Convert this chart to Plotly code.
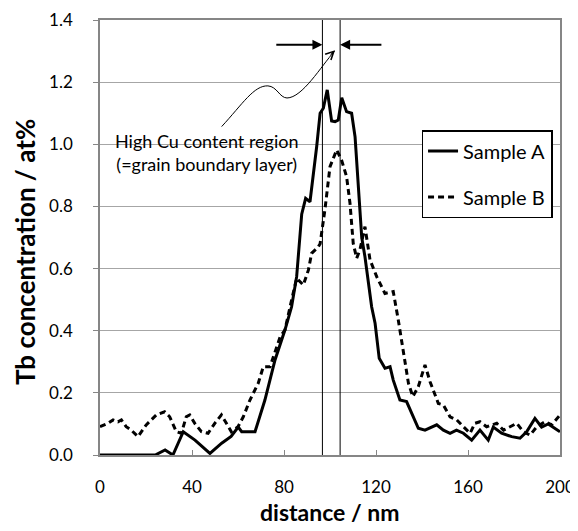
import plotly.graph_objects as go

# ---- data ----
sample_a_x = [0, 24, 28.3, 31.7, 36.2, 41.3, 47.8, 52.9, 57, 60.1, 61.6, 67.4, 71.7, 76.1, 80.4, 83.3,
              85.5, 87.7, 89.4, 91.3, 94.2, 95.7, 97.1, 98.8, 100.7, 102.2, 103.6, 105.1, 107.2, 109.4,
              110.9, 112.3, 113.8, 115.2, 118.1, 119.6, 121.4, 123.9, 126.1, 127.5, 130.4, 133.3, 135.5,
              138.4, 141.3, 144.2, 146.4, 149.3, 152.2, 155, 158, 161.6, 165.2, 168.8, 171, 174.6, 179,
              182.6, 185.5, 189.1, 192, 194.9, 200]
sample_a_y = [0, 0, 0.016, 0, 0.075, 0.048, 0.005, 0.038, 0.06, 0.09, 0.075, 0.075, 0.177, 0.306, 0.402, 0.477,
              0.574, 0.775, 0.826, 0.815, 0.992, 1.10, 1.116, 1.175, 1.075, 1.073, 1.078, 1.15, 1.105, 1.10,
              1.024, 0.85, 0.70, 0.638, 0.477, 0.424, 0.311, 0.279, 0.284, 0.241, 0.177, 0.172, 0.134,
              0.086, 0.08, 0.09, 0.097, 0.08, 0.07, 0.08, 0.07, 0.048, 0.08, 0.048, 0.09, 0.07, 0.059,
              0.054, 0.075, 0.118, 0.09, 0.10, 0.075]

sample_b_x = [0, 3.5, 5.7, 7.8, 9.3, 11.4, 13.6, 16.5, 20.1, 24.5, 28.1, 30.3, 33.2, 35.4, 37.5, 39, 41.2,
              44.1, 47, 49.9, 52.8, 54.9, 57.1, 60, 62.3, 65.2, 68.8, 71, 73.9, 75.4, 78.3, 80.4, 81.9, 83.3,
              85.5, 88.4, 90.6, 92, 94.9, 95.7, 97.8, 100, 102.9, 105, 107.2, 108.7, 110.1, 111.6, 113,
              115.2, 117.4, 120.3, 123.9, 127.5, 129.7, 131.9, 134.1, 136, 138.4, 141.3, 143.5, 147.1,
              149.3, 152.2, 155.1, 158, 160.9, 163, 165.2, 168.1, 172.5, 175.4, 178.3, 181.2, 184, 187,
              189.9, 193.5, 196.4, 200]
sample_b_y = [0.091, 0.102, 0.113, 0.107, 0.113, 0.091, 0.08, 0.059, 0.097, 0.129, 0.139, 0.123, 0.075, 0.07,
              0.123, 0.129, 0.102, 0.075, 0.07, 0.102, 0.129, 0.102, 0.075, 0.091, 0.123, 0.177, 0.231,
              0.284, 0.284, 0.316, 0.38, 0.402, 0.456, 0.499, 0.569, 0.547, 0.595, 0.649, 0.67, 0.68, 0.79,
              0.928, 0.982, 0.95, 0.896, 0.81, 0.681, 0.633, 0.66, 0.735, 0.628, 0.574, 0.52, 0.526,
              0.434, 0.338, 0.231, 0.188, 0.22, 0.29, 0.236, 0.166, 0.161, 0.123, 0.113, 0.091, 0.07,
              0.102, 0.107, 0.091, 0.102, 0.08, 0.091, 0.102, 0.075, 0.064, 0.091, 0.107, 0.097, 0.129]

boundary_x = [96.7, 104.4]          # grain boundary layer edges (nm)
arrow_level = 1.32                   # y of horizontal arrows
arrow_start = [76, 123]              # tails of the horizontal arrows
series_names = ["Sample A", "Sample B"]
x_ticks = [0, 40, 80, 120, 160, 200]
y_ticks = [0.0, 0.2, 0.4, 0.6, 0.8, 1.0, 1.2, 1.4]
x_title = "distance / nm"
y_title = "Tb concentration / at%"

FONT = "Lato"
GRID = "#a6a6a6"
FRAME = "#868686"

fig = go.Figure()
fig.add_trace(go.Scatter(x=sample_a_x, y=sample_a_y, mode="lines", name=series_names[0],
                         legendgroup="a", line=dict(color="black", width=3)))
fig.add_trace(go.Scatter(x=sample_b_x, y=sample_b_y, mode="lines", name=series_names[1],
                         legendgroup="b", line=dict(color="black", width=3, dash="6px,4px")))

for bx in boundary_x:
    fig.add_shape(type="line", xref="x", yref="y", x0=bx, x1=bx, y0=0, y1=1.4,
                  line=dict(color="black", width=1))

# horizontal arrows pointing at boundary lines
for bx, sx in zip(boundary_x, arrow_start):
    fig.add_annotation(x=bx, y=arrow_level, ax=sx, ay=arrow_level, xref="x", yref="y",
                       axref="x", ayref="y", showarrow=True, arrowhead=2, arrowsize=1,
                       arrowwidth=2, arrowcolor="black", text="")

# curved leader line
fig.add_shape(type="path", xref="x", yref="y",
              path="M 52.9,1.057 C 62,1.13 67,1.19 73,1.188 C 77,1.186 78,1.15 81.3,1.149 "
                   "C 88,1.15 96,1.25 102.0,1.30",
              line=dict(color="black", width=1))
fig.add_annotation(x=102.2, y=1.303, ax=-6, ay=6, xref="x", yref="y", showarrow=True,
                   arrowhead=5, arrowsize=1.6, arrowwidth=1, arrowcolor="black", text="",
                   standoff=0)

fig.add_annotation(x=46.6, y=0.972, xref="x", yref="y", showarrow=False,
                   text="High Cu content region<br>(=grain boundary layer)",
                   font=dict(family=FONT, size=18, color="black"), align="center")

# axis titles placed as in the reference
fig.add_annotation(x=-0.163, y=0.4667, xref="paper", yref="paper", showarrow=False,
                   text="<b>" + y_title + "</b>", textangle=-90,
                   xanchor="center", yanchor="middle",
                   font=dict(family=FONT, size=26, color="black"))
fig.add_annotation(x=0.499, y=-0.131, xref="paper", yref="paper", showarrow=False,
                   text="<b>" + x_title + "</b>", xanchor="center", yanchor="middle",
                   font=dict(family=FONT, size=23, color="black"))

# the page body adds an 8px offset, so the figure is sized and margined to compensate
fig.update_layout(
    width=570, height=523,
    margin=dict(l=92, r=18, t=12, b=76),
    paper_bgcolor="white", plot_bgcolor="white",
    font=dict(family=FONT, color="black"),
    showlegend=True,
    legend=dict(x=0.699, y=0.747, xanchor="left", yanchor="top",
                bordercolor="black", borderwidth=1.5, bgcolor="white",
                font=dict(family=FONT, size=20), traceorder="grouped",
                tracegroupgap=17, itemwidth=30),
    xaxis=dict(range=[0, 200], tickvals=x_ticks, ticks="inside", ticklen=5,
               tickcolor=FRAME, showgrid=False, zeroline=False, automargin=False,
               showline=True, linecolor=FRAME, linewidth=1.5, mirror=True,
               tickfont=dict(family=FONT, size=17), ticklabelstandoff=16),
    yaxis=dict(range=[0, 1.4], tickvals=y_ticks, tickformat=".1f", ticks="outside",
               ticklen=5, tickcolor=FRAME, showgrid=True, gridcolor=GRID, gridwidth=1,
               zeroline=False, showline=True, linecolor=FRAME, linewidth=1.5, mirror=True,
               automargin=False,
               tickfont=dict(family=FONT, size=17), ticklabelstandoff=17),
)

fig.write_html("out.html")
